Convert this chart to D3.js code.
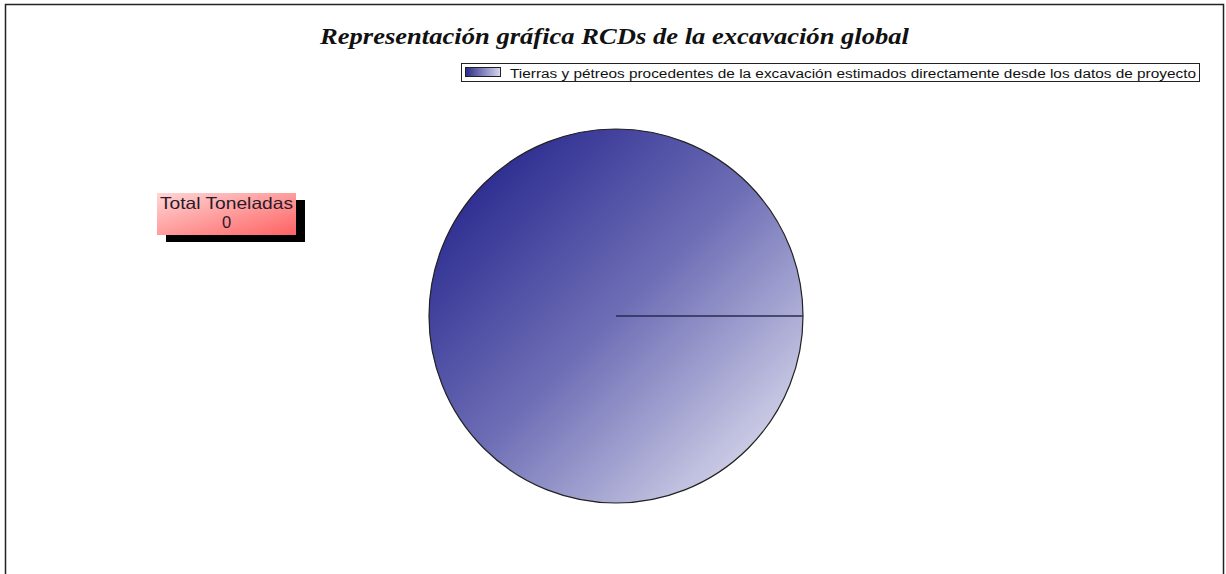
<!DOCTYPE html>
<html>
<head>
<meta charset="utf-8">
<script src="https://cdn.jsdelivr.net/npm/d3@7"></script>
<style>
  html, body { margin: 0; padding: 0; background: #fff; }
  svg { display: block; }
</style>
</head>
<body>
<svg id="chart" width="1226" height="574"></svg>
<script>
const titleText = "Representación gráfica RCDs de la excavación global";
const categories = ["Tierras y pétreos procedentes de la excavación estimados directamente desde los datos de proyecto"];
const shares = [100];          // share of the pie (%)
const tonnes = [0];            // total tonnes shown in the box
const totalLabel = "Total Toneladas";

const svg = d3.select("#chart");
const defs = svg.append("defs");

// frame
svg.append("path")
  .attr("d", "M5.5,574 L5.5,4.5 L1223.5,4.5 L1223.5,574")
  .attr("fill", "none").attr("stroke", "#222").attr("stroke-width", 1.5);

// gradients
const pg = defs.append("linearGradient").attr("id", "pieGrad")
  .attr("x1", "0%").attr("y1", "0%").attr("x2", "100%").attr("y2", "100%");
pg.append("stop").attr("offset", "0%").attr("stop-color", "#161684");
pg.append("stop").attr("offset", "50%").attr("stop-color", "#6e6eb6");
pg.append("stop").attr("offset", "100%").attr("stop-color", "#f0f0f8");

const lg = defs.append("linearGradient").attr("id", "legGrad")
  .attr("x1", "0%").attr("y1", "0%").attr("x2", "100%").attr("y2", "0%");
lg.append("stop").attr("offset", "0%").attr("stop-color", "#2a2a8a");
lg.append("stop").attr("offset", "100%").attr("stop-color", "#d8d8ee");

const bg = defs.append("linearGradient").attr("id", "boxGrad")
  .attr("x1", "0%").attr("y1", "0%").attr("x2", "100%").attr("y2", "100%");
bg.append("stop").attr("offset", "0%").attr("stop-color", "#ffd6d6");
bg.append("stop").attr("offset", "100%").attr("stop-color", "#ff6262");

// title
svg.append("text")
  .attr("x", 320).attr("y", 44)
  .attr("font-family", "Liberation Serif, DejaVu Serif, serif")
  .attr("font-style", "italic").attr("font-weight", "bold")
  .attr("font-size", 23).attr("fill", "#111")
  .attr("textLength", 589).attr("lengthAdjust", "spacingAndGlyphs")
  .text(titleText);

// legend
const legend = svg.append("g");
legend.append("rect").attr("x", 461.5).attr("y", 63.5).attr("width", 738).attr("height", 18)
  .attr("fill", "#fff").attr("stroke", "#222").attr("stroke-width", 1);
categories.forEach((c, i) => {
  legend.append("rect").attr("x", 465.5).attr("y", 67.5).attr("width", 35).attr("height", 9)
    .attr("fill", "url(#legGrad)").attr("stroke", "#222");
  legend.append("text").attr("x", 510).attr("y", 77.5)
    .attr("font-family", "Liberation Sans, Arial, sans-serif").attr("font-size", 12.5)
    .attr("fill", "#111").attr("textLength", 686).attr("lengthAdjust", "spacingAndGlyphs")
    .text(c);
});

// pie
const cx = 616, cy = 316, r = 187;
const pie = d3.pie().sort(null).startAngle(Math.PI / 2).endAngle(Math.PI / 2 + 2 * Math.PI);
const arcs = pie(shares);
const arc = d3.arc().innerRadius(0).outerRadius(r);
const pieG = svg.append("g").attr("transform", `translate(${cx},${cy})`);
pieG.selectAll("path.slice").data(arcs).join("path")
  .attr("class", "slice")
  .attr("d", arc)
  .attr("fill", "url(#pieGrad)")
  .attr("stroke", "none");
pieG.append("circle").attr("r", r).attr("fill", "none").attr("stroke", "#222").attr("stroke-width", 1.2);
// slice boundary lines
arcs.forEach(a => {
  const ang = a.startAngle;
  pieG.append("line")
    .attr("x1", 0).attr("y1", 0)
    .attr("x2", r * Math.sin(ang)).attr("y2", -r * Math.cos(ang))
    .attr("stroke", "#2a2a50").attr("stroke-width", 1.3);
});

// total box
const bx = 157, by = 193, bw = 139, bh = 42;
svg.append("rect").attr("x", bx + 9).attr("y", by + 7).attr("width", bw).attr("height", bh).attr("fill", "#000");
svg.append("rect").attr("x", bx).attr("y", by).attr("width", bw).attr("height", bh).attr("fill", "url(#boxGrad)");
svg.append("text").attr("x", bx + 3).attr("y", by + 16)
  .attr("font-family", "Liberation Sans, Arial, sans-serif")
  .attr("font-size", 16.5).attr("fill", "#2a1a2a")
  .attr("textLength", 133).attr("lengthAdjust", "spacingAndGlyphs")
  .text(totalLabel);
svg.append("text").attr("x", bx + bw / 2).attr("y", by + 35)
  .attr("text-anchor", "middle").attr("font-family", "Liberation Sans, Arial, sans-serif")
  .attr("font-size", 16.5).attr("fill", "#2a1a2a").text(d3.sum(tonnes));
</script>
</body>
</html>
